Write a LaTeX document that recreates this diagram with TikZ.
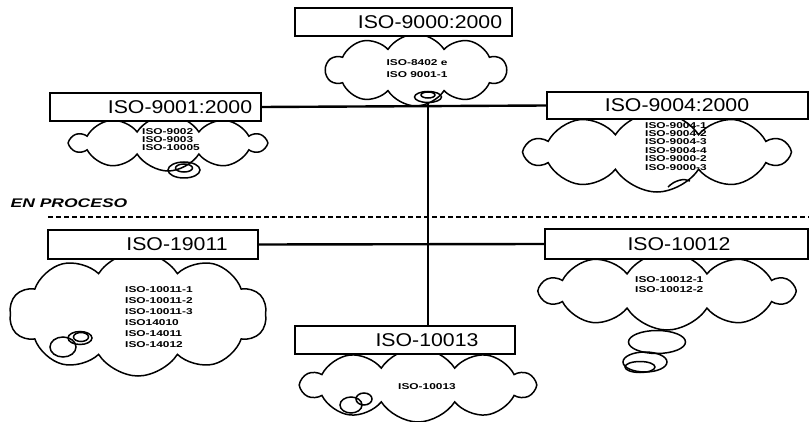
\documentclass[tikz,border=0pt]{standalone}
\usepackage{fontspec}
\setmainfont{Liberation Sans}
\newfontfamily\boxfont[FakeStretch=1.15]{Liberation Sans}
\newfontfamily\smallfont[FakeStretch=1.4]{Liberation Sans}
\usetikzlibrary{shapes.symbols,shapes.geometric}
\begin{document}
\begin{tikzpicture}[x=1pt,y=-1pt,
  isobox/.style={draw, fill=white, line width=1.6pt, inner sep=0pt},
  boxtxt/.style={font=\boxfont\fontsize{18.5}{20}\selectfont, inner sep=0pt},
  cloudst/.style={cloud, draw, fill=white, line width=1.5pt, cloud puffs=10, cloud puff arc=115, cloud ignores aspect, inner sep=0pt},
  ctxt/.style={font=\smallfont\bfseries\fontsize{8.5}{#1}\selectfont, align=left, anchor=north west, inner sep=0pt},
  link/.style={line width=2.4pt},
  bub/.style={draw, ellipse, line width=1.5pt, inner sep=0pt}]
\useasboundingbox (0,0) rectangle (809,422);

% clouds
\node[cloudst, minimum width=180pt, minimum height=72pt] (c0) at (416,70) {};
\node[cloudst, minimum width=194pt, minimum height=56pt] (c1) at (168,143) {};
\node[cloudst, minimum width=262pt, minimum height=80pt] (c2) at (657,152) {};
\node[cloudst, minimum width=257pt, minimum height=124pt] (c3) at (138,314) {};
\node[cloudst, minimum width=252pt, minimum height=78pt] (c4) at (667,291) {};
\node[cloudst, minimum width=232pt, minimum height=74pt] (c5) at (418,385) {};

% spirals / bubbles
\node[bub, minimum width=27pt, minimum height=11pt] (sp0) at (428,97) {};
\node[bub, minimum width=14pt, minimum height=6pt] (sp0i) at (428,95) {};
\node[bub, minimum width=32pt, minimum height=16pt] (sp1) at (184,170) {};
\node[bub, minimum width=17pt, minimum height=8pt] (sp1i) at (184,168) {};
\draw[line width=1.5pt] (668,187) .. controls (675,180) and (684,178) .. (690,181);
\node[bub, minimum width=26pt, minimum height=20pt] (b3a) at (63,347) {};
\node[bub, minimum width=24pt, minimum height=13pt] (b3b) at (80,338) {};
\node[bub, minimum width=15pt, minimum height=9pt] (b3c) at (81,337) {};
\node[bub, minimum width=57pt, minimum height=23pt] (b4a) at (657,342) {};
\node[bub, minimum width=44pt, minimum height=20pt] (b4b) at (645,362) {};
\node[bub, minimum width=30pt, minimum height=11pt] (b4c) at (640,367) {};
\node[bub, minimum width=22pt, minimum height=16pt] (b5a) at (351,405) {};
\node[bub, minimum width=16pt, minimum height=12pt] (b5b) at (364,399) {};

% cloud texts
\node[ctxt=12, align=center, anchor=north] (t0) at (417,59) {ISO-8402 e\\ISO 9001-1};
\node[ctxt=8] (t1) at (142,128) {ISO-9002\\ISO-9003\\ISO-10005};
\node[ctxt=8.4] (t2) at (645,122) {ISO-9004-1\\ISO-9004-2\\ISO-9004-3\\ISO-9004-4\\ISO-9000-2\\ISO-9000-3};
\node[ctxt=11] (t3) at (125,286) {ISO-10011-1\\ISO-10011-2\\ISO-10011-3\\ISO14010\\ISO-14011\\ISO-14012};
\node[ctxt=10] (t4) at (635,276) {ISO-10012-1\\ISO-10012-2};
\node[ctxt=10, anchor=center] (t5) at (427,387) {ISO-10013};

% boxes
\node[isobox, minimum width=217pt, minimum height=28pt] (b0) at (403.5,22) {};
\node[boxtxt] (l0) at (430,22) {ISO-9000:2000};
\node[isobox, minimum width=211pt, minimum height=28pt] (b1) at (155.5,107) {};
\node[boxtxt] (l1) at (180,107) {ISO-9001:2000};
\node[isobox, minimum width=261pt, minimum height=27pt] (b2) at (677.5,105.5) {};
\node[boxtxt] (l2) at (677,105.5) {ISO-9004:2000};
\node[isobox, minimum width=210pt, minimum height=29pt] (b3) at (153,244.5) {};
\node[boxtxt] (l3) at (177,244.5) {ISO-19011};
\node[isobox, minimum width=263pt, minimum height=30pt] (b4) at (676.5,244) {};
\node[boxtxt] (l4) at (679,244) {ISO-10012};
\node[isobox, minimum width=220pt, minimum height=28pt] (b5) at (405,340) {};
\node[boxtxt] (l5) at (427,340) {ISO-10013};

% connectors
\draw[link] (b1.east) -- (b2.west);
\draw[link] (b3.east) -- (b4.west);
\draw[link] (sp0.south) -- (sp0.south |- b5.north);

% dashed separator
\coordinate (d0) at (48,217);
\coordinate (d1) at (809,217);
\draw[line width=1.5pt, dash pattern=on 5pt off 3pt] (d0) -- (d1);
\node[font=\smallfont\bfseries\itshape\fontsize{12.5}{13}\selectfont, inner sep=0pt] (ep) at (69,203) {EN PROCESO};
\end{tikzpicture}
\end{document}
